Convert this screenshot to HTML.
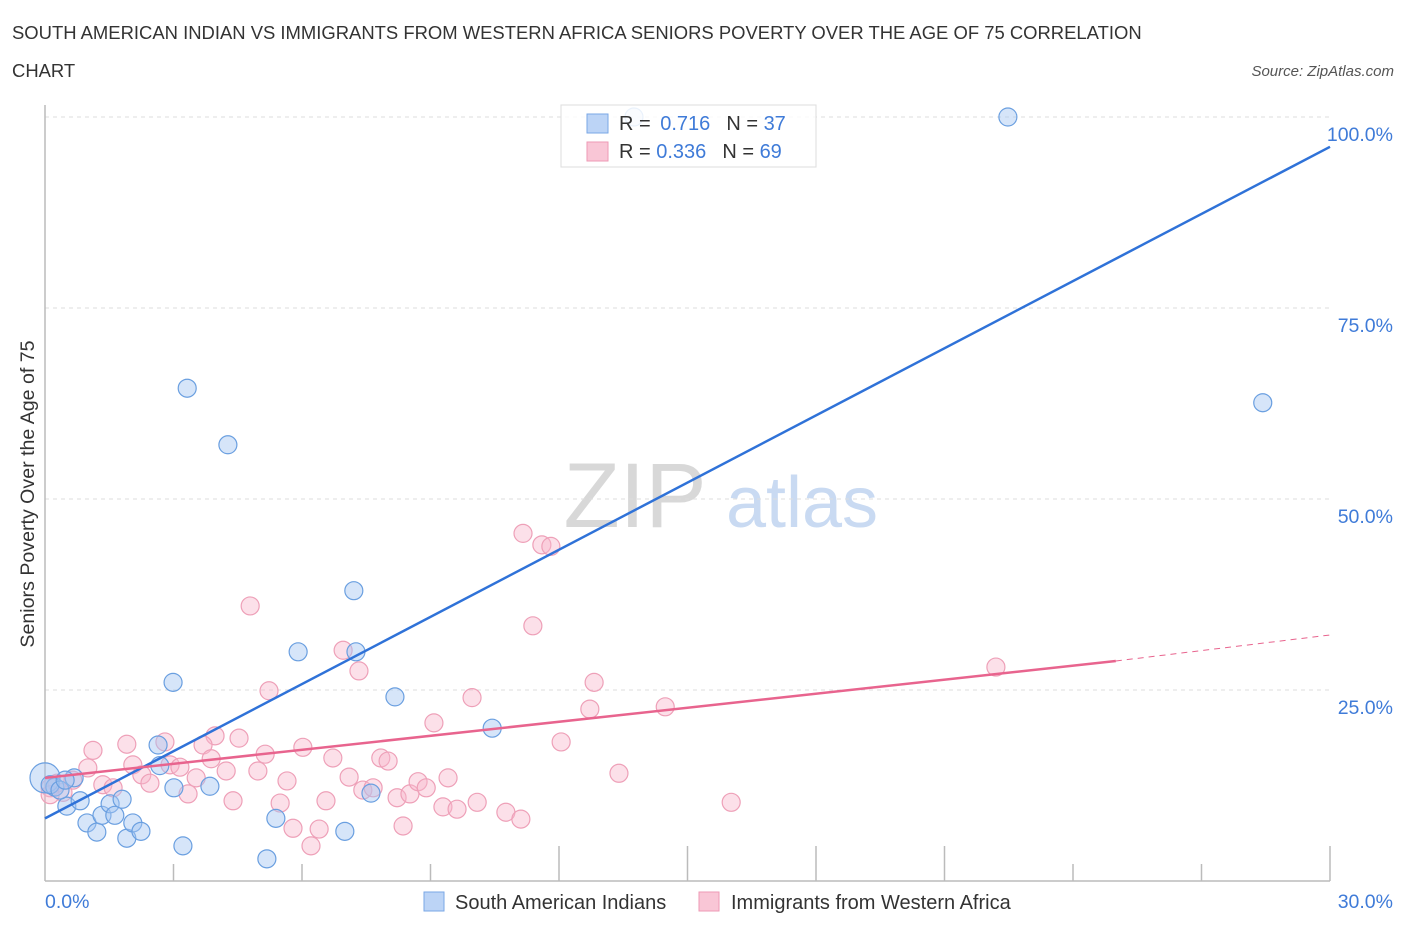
<!DOCTYPE html>
<html><head><meta charset="utf-8"><style>
body{margin:0;background:#fff;font-family:"Liberation Sans",sans-serif;}
svg text{font-family:"Liberation Sans",sans-serif;}
</style></head><body>
<svg id="chart" width="1406" height="930" xmlns="http://www.w3.org/2000/svg">
<text x="12" y="39" font-size="18.45" fill="#333">SOUTH AMERICAN INDIAN VS IMMIGRANTS FROM WESTERN AFRICA SENIORS POVERTY OVER THE AGE OF 75 CORRELATION</text>
<text x="12" y="77" font-size="18.45" fill="#333">CHART</text>
<text x="1394" y="76" font-size="15" fill="#555" font-style="italic" text-anchor="end">Source: ZipAtlas.com</text>
<g>
<text x="635" y="527" font-size="92" font-family="Liberation Serif,serif" fill="#d8d8d8" text-anchor="middle">ZIP</text>
<text x="802" y="527" font-size="72" fill="#c9daf2" text-anchor="middle">atlas</text>
</g>
<g id="grid"></g>
<g id="axes"></g>
<g id="pts"></g>
<g id="lines"></g>
<g>
<rect x="561" y="105" width="255" height="62" fill="rgba(255,255,255,0.85)" stroke="#ddd"/>
<rect x="587" y="114" width="21" height="19" fill="#bcd4f6" stroke="#7aa7e6"/>
<rect x="587" y="142" width="21" height="19" fill="#f9c6d6" stroke="#ee9ab5"/>
<text x="619" y="130" font-size="20" fill="#333">R = <tspan fill="#3f7bd8" dx="4">0.716</tspan><tspan fill="#333" dx="16">N = </tspan><tspan fill="#3f7bd8">37</tspan></text>
<text x="619" y="158" font-size="20" fill="#333">R = <tspan fill="#3f7bd8">0.336</tspan><tspan fill="#333" dx="16">N = </tspan><tspan fill="#3f7bd8">69</tspan></text>
</g>
<g>
<rect x="424" y="892" width="20" height="19" fill="#bcd4f6" stroke="#7aa7e6"/>
<text x="455" y="909" font-size="20" fill="#333">South American Indians</text>
<rect x="699" y="892" width="20" height="19" fill="#f9c6d6" stroke="#ee9ab5"/>
<text x="731" y="909" font-size="20" fill="#333">Immigrants from Western Africa</text>
</g>
<text transform="translate(34,494) rotate(-90)" font-size="19.6" fill="#333" text-anchor="middle">Seniors Poverty Over the Age of 75</text>
</svg>
<script>
const blueX=[0,0.23,0.51,0.68,0.82,0.98,1.21,1.33,1.52,1.63,1.80,1.91,2.05,2.24,2.64,2.68,2.99,3.01,3.22,3.32,3.85,4.27,5.18,5.39,5.91,7.00,7.21,7.26,7.61,8.17,10.44,13.75,22.48,28.43,0.12,0.35,0.47];
const blueY=[13.5,12.3,9.8,13.5,10.5,7.6,6.4,8.6,10.1,8.6,10.7,5.6,7.6,6.5,17.8,15.1,26.0,12.2,4.6,64.5,12.4,57.1,2.9,8.2,30.0,6.5,38.0,30.0,11.5,24.1,20.0,100,100,62.6,12.6,11.9,13.2];
const pinkX=[1.12,1.91,2.80,3.97,4.53,1.00,2.05,2.26,2.45,2.92,3.15,3.69,3.88,3.53,3.34,4.23,4.39,4.97,5.14,5.65,5.49,5.79,6.02,6.21,6.40,6.56,6.72,7.10,7.42,7.66,7.84,8.01,8.22,8.36,8.52,8.71,8.90,9.08,9.29,9.41,9.62,10.09,10.76,11.11,9.97,0.65,1.35,0.12,0.28,0.42,1.59,4.79,11.16,11.60,11.81,11.39,7.33,6.96,5.23,12.82,12.72,14.48,12.05,13.40,16.02,22.20,0.12];
const pinkY=[17.1,17.9,18.2,19.0,18.7,14.8,15.2,13.9,12.8,15.2,14.9,17.8,16.0,13.5,11.4,14.4,10.5,14.4,16.6,13.1,10.2,6.9,17.5,4.6,6.8,10.5,16.1,13.6,11.9,12.2,16.1,15.7,10.9,7.2,11.4,13.0,12.2,20.7,9.7,13.5,9.4,10.3,9.0,8.1,24.0,13.2,12.6,12.2,12.8,11.6,12.2,36.0,45.5,44.0,43.8,33.4,27.5,30.2,24.9,26.0,22.5,22.8,18.2,14.1,10.3,28.0,11.3];
const yTicks=[25,50,75,100];
const yTickLabels=["25.0%","50.0%","75.0%","100.0%"];
const xTicks=[3,6,9,12,15,18,21,24,27,30];
const blueTrend=[8.2,96.1];
const pinkTrend=[13.5,28.8,32.2];
const pinkSolidEnd=25;
const NS="http://www.w3.org/2000/svg";
const sx=v=>45+v*1285/30, sy=v=>881-v*764/100;
function mk(t,a,p){const e=document.createElementNS(NS,t);for(const k in a)e.setAttribute(k,a[k]);document.getElementById(p).appendChild(e);return e;}
yTicks.forEach((t,i)=>{
 const l=mk('line',{x1:45,x2:1330,y1:sy(t),y2:sy(t),stroke:'#ddd','stroke-dasharray':'4,4'},'grid');
 
 
 const tx=mk('text',{x:1393,y:sy(t)+24,'font-size':19.5,fill:'#3f7bd8','text-anchor':'end'},'grid');
 tx.textContent=yTickLabels[i];
 
 
});
const ax=mk('line',{x1:45,x2:45,y1:105,y2:881,stroke:'#bbb','stroke-width':1.5},'axes');


const bx=mk('line',{x1:45,x2:1330,y1:881,y2:881,stroke:'#bbb','stroke-width':1.5},'axes');


xTicks.forEach(t=>{
 const tl=mk('line',{x1:sx(t),x2:sx(t),y1:[12,15,18,21,30].includes(t)?846:864,y2:881,stroke:'#bbb','stroke-width':1.5},'axes');
 
 
});
const x0=mk('text',{x:45,y:908,'font-size':19.5,fill:'#3f7bd8'},'axes');x0.textContent='0.0%';


const x1=mk('text',{x:1393,y:908,'font-size':19.5,fill:'#3f7bd8','text-anchor':'end'},'axes');x1.textContent='30.0%';


pinkX.forEach((x,i)=>{
 const c=mk('circle',{cx:sx(x),cy:sy(pinkY[i]),r:9,fill:'rgba(248,182,202,0.42)',stroke:'#eea0b8','stroke-width':1.2},'pts');
 
 
});
blueX.forEach((x,i)=>{
 const c=mk('circle',{cx:sx(x),cy:sy(blueY[i]),r:i==0?15:9,fill:'rgba(165,198,242,0.45)',stroke:'#6a9fe0','stroke-width':1.2},'pts');
 
 
});
const bl=mk('line',{x1:sx(0),y1:sy(blueTrend[0]),x2:sx(30),y2:sy(blueTrend[1]),stroke:'#2f72d8','stroke-width':2.5},'lines');


const pl=mk('line',{x1:sx(0),y1:sy(pinkTrend[0]),x2:sx(pinkSolidEnd),y2:sy(pinkTrend[1]),stroke:'#e8648e','stroke-width':2.5},'lines');


const pd=mk('line',{x1:sx(pinkSolidEnd),y1:sy(pinkTrend[1]),x2:sx(30),y2:sy(pinkTrend[2]),stroke:'#e8648e','stroke-width':1,'stroke-dasharray':'6,5'},'lines');


</script>
</body></html>
